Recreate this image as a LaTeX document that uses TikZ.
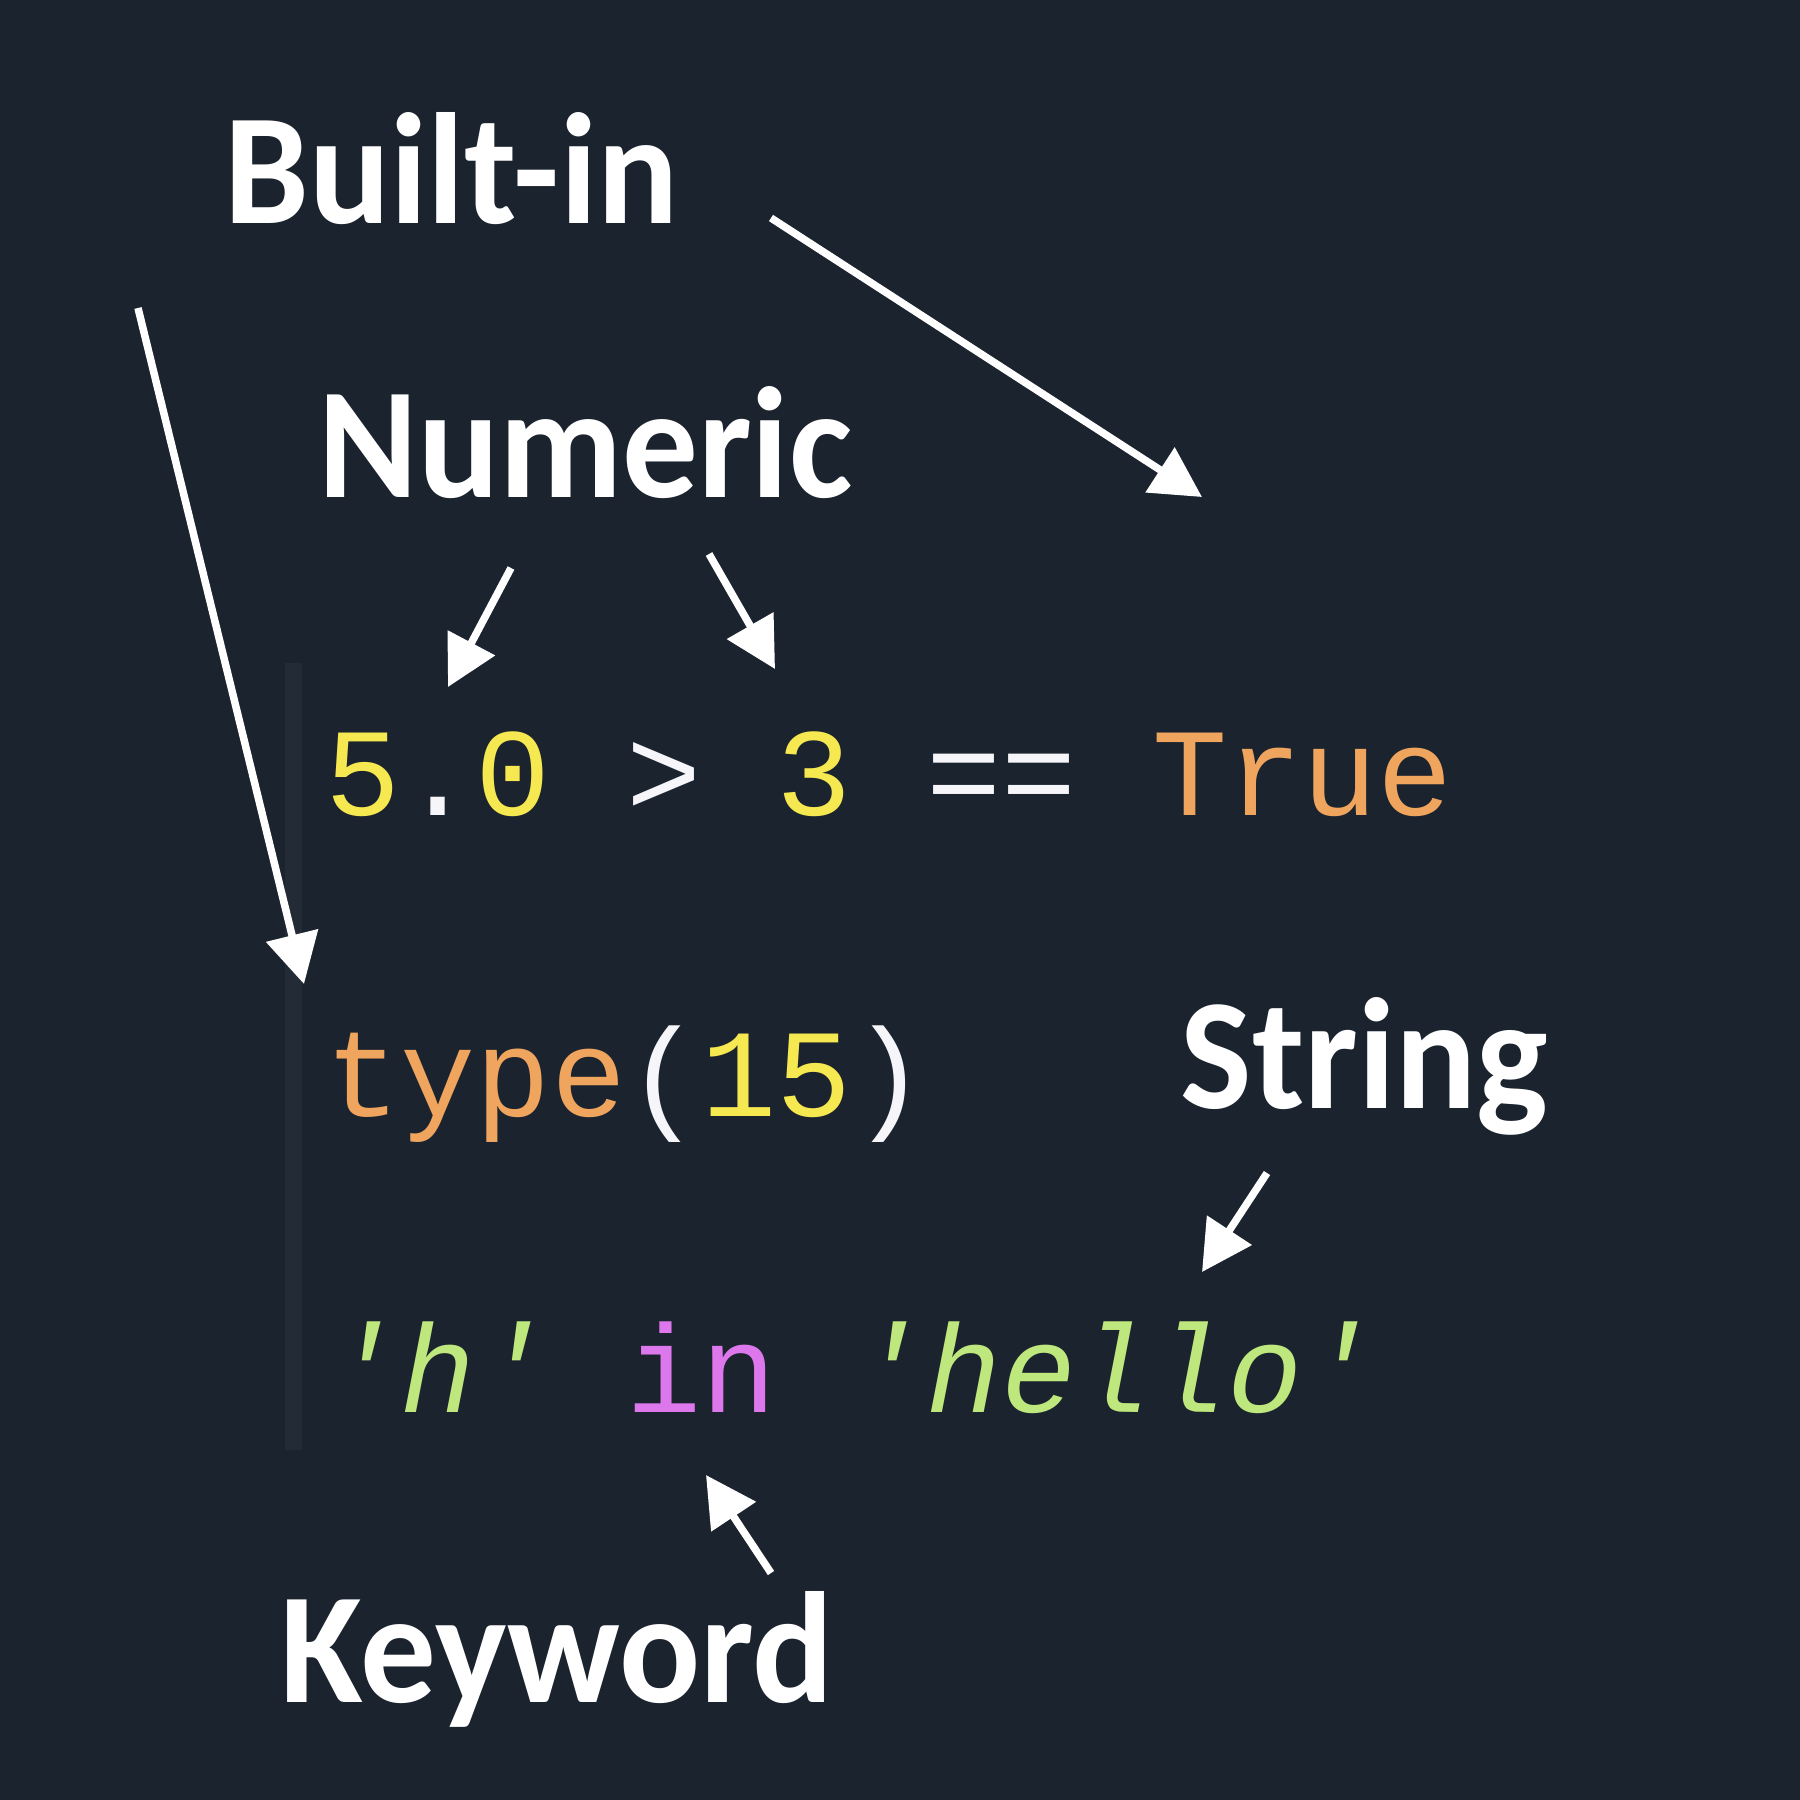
\documentclass[tikz,border=0pt]{standalone}
\usepackage{fontspec}
\setmainfont{Carlito}
\setmonofont{Liberation Mono}
\usetikzlibrary{arrows.meta}
\definecolor{bg}{RGB}{27,35,46}
\definecolor{barc}{RGB}{35,43,55}
\definecolor{numc}{RGB}{245,232,80}
\definecolor{kwc}{RGB}{240,165,95}
\definecolor{strc}{RGB}{190,232,125}
\definecolor{inc}{RGB}{220,120,235}
\definecolor{opc}{RGB}{245,245,250}
\newcommand{\lblt}[1]{\scalebox{0.955}[1]{#1}}
\begin{document}
\begin{tikzpicture}[x=0.01cm,y=-0.01cm,
  lbl/.style={inner sep=0pt,anchor=base west,text=white,font=\fontsize{45}{50}\selectfont\bfseries},
  code/.style={inner sep=0pt,anchor=base west,font=\fontsize{35.6}{40}\selectfont\ttfamily},
  arr/.style={draw=white,line width=0.075cm,-{Triangle[width=0.52cm,length=0.5cm]}}]
\fill[bg] (0,0) rectangle (1800,1800);
\useasboundingbox (0,0) rectangle (1800,1800);
\fill[barc] (285,663) rectangle (302,1450);
% labels
\node[lbl] (builtin) at (224,224) {\lblt{Built-in}};
\node[lbl] (numeric) at (318,497) {\lblt{Numeric}};
\node[lbl] (string) at (1180,1108) {\lblt{String}};
\node[lbl] (keyword) at (280,1702) {\lblt{Keyword}};
% code
\node[code] (l1) at (325,815) {\textcolor{numc}{5}\textcolor{opc}{.}\textcolor{numc}{0} \textcolor{opc}{>} \textcolor{numc}{3} \textcolor{opc}{==} \textcolor{kwc}{True}};
\node[code] (l2) at (325,1116) {\textcolor{kwc}{type}\textcolor{opc}{(}\textcolor{numc}{15}\textcolor{opc}{)}};
\node[code] (l3) at (325,1412) {\itshape\textcolor{strc}{'h'} \textcolor{inc}{\upshape in} \textcolor{strc}{'hello'}};
% arrow ends
\coordinate (a1s) at (771,218); \coordinate (a1e) at (1202,497);
\coordinate (a2s) at (138,308); \coordinate (a2e) at (304,984);
\coordinate (a3s) at (511,568); \coordinate (a3e) at (448,687);
\coordinate (a4s) at (709,554); \coordinate (a4e) at (775,669);
\coordinate (a5s) at (1267,1173); \coordinate (a5e) at (1202,1272);
\coordinate (a6s) at (771,1573); \coordinate (a6e) at (706,1475);
\draw[arr] (a1s) -- (a1e);
\draw[arr] (a2s) -- (a2e);
\draw[arr] (a3s) -- (a3e);
\draw[arr] (a4s) -- (a4e);
\draw[arr] (a5s) -- (a5e);
\draw[arr] (a6s) -- (a6e);
\end{tikzpicture}
\end{document}
